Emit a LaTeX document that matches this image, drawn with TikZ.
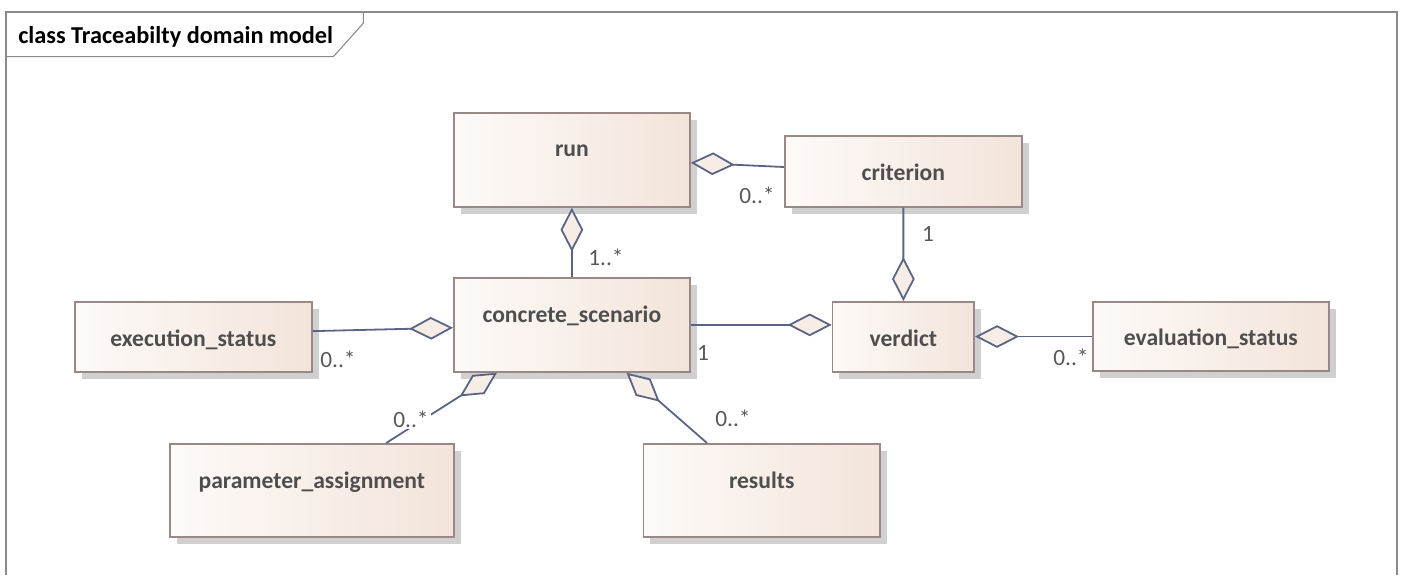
\documentclass[tikz,border=0pt]{standalone}
\usepackage{fontspec}
\setmainfont{Carlito}
\usetikzlibrary{arrows.meta,shadows,calc}

\definecolor{frameline}{HTML}{8A8A8A}
\definecolor{boxline}{HTML}{9A8886}
\definecolor{boxleft}{HTML}{FDFAF8}
\definecolor{boxright}{HTML}{F3E4DA}
\definecolor{boxshadow}{HTML}{D0D0D0}
\definecolor{conn}{HTML}{5A6584}
\definecolor{dfill}{HTML}{F6EDE6}
\definecolor{nametext}{HTML}{4E4E4E}
\definecolor{multtext}{HTML}{585858}

\begin{document}
\begin{tikzpicture}[x=0.75pt,y=-0.75pt,
  cls/.style={draw=boxline, line width=1.3pt, left color=boxleft, right color=boxright,
    inner sep=0pt, anchor=north west,
    drop shadow={shadow xshift=5pt, shadow yshift=-5pt, fill=boxshadow, opacity=1}},
  clsname/.style={font=\fontsize{17.7}{20}\selectfont\bfseries, text=nametext, anchor=base, inner sep=0pt},
  mult/.style={font=\fontsize{17.5}{20}\selectfont, text=multtext, inner sep=1.5pt},
  agg/.style={draw=conn, line width=1.35pt, line join=miter,
    -{Diamond[length=33pt,width=17pt,fill=dfill]}},
]
\useasboundingbox (0,0) rectangle (1405,575);

% diagram frame with its name tab
\draw[frameline, line width=0.8pt] (6,575) -- (6,12) -- (1397,12) -- (1397,575);
\draw[frameline, line width=0.8pt] (6,56.7) -- (333.3,56.7) -- (363.3,23.3) -- (363.3,12);
\node[font=\fontsize{18.2}{20}\selectfont\bfseries, anchor=base west, inner sep=0pt]
  (title) at (18,43) {class Traceabilty domain model};

% classes
\node[cls, minimum width=177pt, minimum height=70.5pt] (run) at (453,112) {};
\node[cls, minimum width=177.75pt, minimum height=53.25pt] (criterion) at (784,135) {};
\node[cls, minimum width=177pt, minimum height=70.5pt] (concrete) at (453,277) {};
\node[cls, minimum width=177.75pt, minimum height=52.5pt] (execution) at (74,301) {};
\node[cls, minimum width=106.2pt, minimum height=52.5pt] (verdict) at (831.7,301) {};
\node[cls, minimum width=177pt, minimum height=52pt] (evaluation) at (1092,301) {};
\node[cls, minimum width=213pt, minimum height=69.75pt] (parameter) at (169,443) {};
\node[cls, minimum width=177.25pt, minimum height=69.75pt] (results) at (642.7,443) {};

\node[clsname] (run-t) at ($(run.north)+(0,44)$) {run};
\node[clsname] (criterion-t) at ($(criterion.north)+(0,45)$) {criterion};
\node[clsname] (concrete-t) at ($(concrete.north)+(0,45)$) {concrete\_scenario};
\node[clsname] (execution-t) at ($(execution.north)+(0,45)$) {execution\_status};
\node[clsname] (verdict-t) at ($(verdict.north)+(0,45)$) {verdict};
\node[clsname] (evaluation-t) at ($(evaluation.north)+(0,44)$) {evaluation\_status};
\node[clsname] (parameter-t) at ($(parameter.north)+(0,45)$) {parameter\_assignment};
\node[clsname] (results-t) at ($(results.north)+(0,45)$) {results};

% attachment points of the aggregations
\coordinate (run-r)   at ($(run.north east)!0.53!(run.south east)$);
\coordinate (crit-l)  at ($(criterion.north west)!0.44!(criterion.south west)$);
\coordinate (exec-r)  at ($(execution.north east)!0.42!(execution.south east)$);
\coordinate (conc-l)  at ($(concrete.north west)!0.53!(concrete.south west)$);
\coordinate (conc-bl) at ($(concrete.south west)!0.185!(concrete.south east)$);
\coordinate (conc-br) at ($(concrete.south west)!0.73!(concrete.south east)$);
\coordinate (par-t)   at ($(parameter.north west)!0.76!(parameter.north east)$);
\coordinate (res-t)   at ($(results.north west)!0.27!(results.north east)$);

% aggregations (diamond on the whole)
\draw[agg] (concrete.north) -- (run.south);
\draw[agg] (crit-l) -- (run-r);
\draw[agg] (criterion.south) -- (verdict.north);
\draw[agg] (concrete.east) -- (concrete.east -| verdict.west);
\draw[agg] (evaluation.west) -- (evaluation.west -| verdict.east);
\draw[agg] (exec-r) -- (conc-l);
\draw[agg] (par-t) -- (conc-bl);
\draw[agg] (res-t) -- (conc-br);

% multiplicities
\node[mult] (m-run) at (606,257) {1..*};
\node[mult] (m-crit) at (757,195) {0..*};
\node[mult] (m-ver) at (928,234) {1};
\node[mult] (m-conc) at (703,353) {1};
\node[mult] (m-eval) at (1071,357) {0..*};
\node[mult] (m-exec) at (338,359) {0..*};
\node[mult, fill=white] (m-par) at (411,419) {0..*};
\node[mult] (m-res) at (733,418) {0..*};
\end{tikzpicture}
\end{document}
